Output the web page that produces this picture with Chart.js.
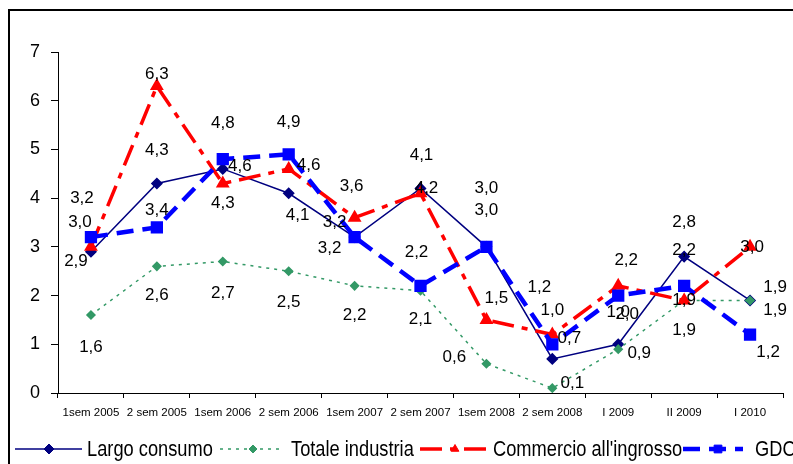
<!DOCTYPE html>
<html>
<head>
<meta charset="utf-8">
<script src="https://cdn.jsdelivr.net/npm/chart.js@4.4.1/dist/chart.umd.min.js"></script>
<style>
    html, body { margin: 0; padding: 0; background: #fff; }
    #wrap { width: 793px; height: 464px; position: relative; }
</style>
</head>
<body>
<div id="wrap"><canvas id="myChart" width="793" height="464"></canvas></div>
<script>
// periodi
const periods = ['1sem 2005', '2 sem 2005', '1sem 2006', '2 sem 2006', '1sem 2007', '2 sem 2007',
    '1sem 2008', '2 sem 2008', 'I 2009', 'II 2009', 'I 2010'];

const largoConsumo = [2.9, 4.3, 4.6, 4.1, 3.2, 4.2, 3.0, 0.7, 1.0, 2.8, 1.9];
const totaleIndustria = [1.6, 2.6, 2.7, 2.5, 2.2, 2.1, 0.6, 0.1, 0.9, 1.9, 1.9];
const commercioIngrosso = [3.0, 6.3, 4.3, 4.6, 3.6, 4.1, 1.5, 1.2, 2.2, 1.9, 3.0];
const gdo = [3.2, 3.4, 4.8, 4.9, 3.2, 2.2, 3.0, 1.0, 2.0, 2.2, 1.2];

const yTicks = [0, 1, 2, 3, 4, 5, 6, 7];

// spostamento etichette (dx, dy) rispetto al punto
const offLargo = [[-15, 10], [0, -33], [17, -3], [9, 22], [-20, -15], [6, 0], [0, -59], [17, -21], [0, -32], [0, -34], [25, -13]];
const offTotale = [[0, 32], [0, 29], [0, 32], [0, 31], [0, 29], [0, 29], [-32, -6], [20, -5], [21, 4], [0, 30], [25, 10]];
const offCommercio = [[-11, -25], [0, -12], [0, 20], [20, -4], [-3, -31], [1, -38], [10, -22], [-13, -47], [8, -26], [0, 0], [2, 0]];
const offGdo = [[-9, -39], [0, -17], [0, -36], [0, -32], [-25, 11], [-4, -34], [0, -37], [0, -34], [9, 19], [0, -36], [18, 18]];

document.addEventListener('DOMContentLoaded', function () {

    const fmt = function (v) {
        return v.toFixed(1).replace('.', ',');
    };

    // etichette valori
    const valueLabels = {
        id: 'valueLabels',
        afterDatasetsDraw: function (chart) {
            const ctx = chart.ctx;
            ctx.save();
            ctx.font = '17px "Liberation Sans", Arial, sans-serif';
            ctx.fillStyle = '#000';
            ctx.textAlign = 'center';
            ctx.textBaseline = 'middle';
            chart.data.datasets.forEach(function (ds, i) {
                const meta = chart.getDatasetMeta(i);
                meta.data.forEach(function (pt, j) {
                    const o = ds.labelOffsets[j];
                    ctx.fillText(fmt(ds.data[j]), pt.x + o[0], pt.y + o[1]);
                });
            });
            ctx.restore();
        }
    };

    // cornice + legenda
    const frameLegend = {
        id: 'frameLegend',
        afterDraw: function (chart) {
            const ctx = chart.ctx;
            ctx.save();
            ctx.strokeStyle = '#000';
            ctx.lineWidth = 2;
            ctx.beginPath();
            ctx.moveTo(793, 10);
            ctx.lineTo(9, 10);
            ctx.lineTo(9, 464);
            ctx.stroke();

            const items = [
                { line: [15, 82], mark: 49, text: 87 },
                { line: [220, 283], mark: 253, text: 291 },
                { line: [420, 487], mark: 455, text: 493 },
                { line: [683, 743], mark: 718, text: 755 }
            ];
            const y = 449;
            chart.data.datasets.forEach(function (ds, i) {
                const it = items[i];
                ctx.save();
                ctx.strokeStyle = ds.borderColor;
                ctx.lineWidth = ds.borderWidth;
                ctx.setLineDash(ds.borderDash || []);
                ctx.beginPath();
                ctx.moveTo(it.line[0], y);
                ctx.lineTo(it.line[1], y);
                ctx.stroke();
                ctx.setLineDash([]);
                ctx.fillStyle = ds.pointBackgroundColor;
                ctx.strokeStyle = ds.pointBorderColor;
                ctx.lineWidth = 1;
                Chart.helpers.drawPoint(ctx, {
                    pointStyle: ds.pointStyle,
                    rotation: 0,
                    radius: ds.pointRadius,
                    borderWidth: 1
                }, it.mark, y);
                ctx.restore();

                ctx.save();
                ctx.font = '22px "Liberation Sans", Arial, sans-serif';
                ctx.fillStyle = '#000';
                ctx.textBaseline = 'middle';
                ctx.translate(it.text, y + 1);
                ctx.scale(0.83, 1);
                ctx.fillText(ds.label, 0, 0);
                ctx.restore();
            });
            ctx.restore();
        }
    };

    const data = {
        labels: periods,
        datasets: [{
            label: 'Largo consumo',
            data: largoConsumo,
            labelOffsets: offLargo,
            borderColor: '#000080',
            borderWidth: 1.5,
            pointStyle: 'rectRot',
            pointRadius: 5,
            pointBackgroundColor: '#000080',
            pointBorderColor: '#000080',
            order: 3
        }, {
            label: 'Totale industria',
            data: totaleIndustria,
            labelOffsets: offTotale,
            borderColor: '#339966',
            borderWidth: 1.5,
            borderDash: [3, 5],
            pointStyle: 'rectRot',
            pointRadius: 4,
            pointBackgroundColor: '#339966',
            pointBorderColor: '#339966',
            order: 2
        }, {
            label: "Commercio all'ingrosso",
            data: commercioIngrosso,
            labelOffsets: offCommercio,
            borderColor: '#ff0000',
            borderWidth: 3.5,
            borderDash: [22, 8, 6, 8],
            pointStyle: 'triangle',
            pointRadius: 4.5,
            pointBackgroundColor: '#ff0000',
            pointBorderColor: '#ff0000',
            order: 1
        }, {
            label: 'GDO',
            data: gdo,
            labelOffsets: offGdo,
            borderColor: '#0000ff',
            borderWidth: 4.5,
            borderDash: [17, 9],
            pointStyle: 'rect',
            pointRadius: 5.5,
            pointBackgroundColor: '#0000ff',
            pointBorderColor: '#0000ff',
            order: 0
        }]
    };

    var ctx = document.getElementById('myChart').getContext('2d');
    var myChart = new Chart(ctx, {
        type: 'line',
        data: data,
        options: {
            responsive: false,
            animation: false,
            layout: { padding: { top: 52, right: 9, left: 0, bottom: 0 } },
            plugins: {
                legend: { display: false },
                tooltip: { enabled: false }
            },
            elements: { line: { tension: 0, fill: false } },
            scales: {
                x: {
                    offset: true,
                    grid: { offset: true, drawOnChartArea: false, tickLength: 5, color: '#000' },
                    border: { color: '#000', width: 1 },
                    ticks: {
                        color: '#000',
                        maxRotation: 0,
                        autoSkip: false,
                        padding: 8,
                        font: { family: '"Liberation Sans", Arial, sans-serif', size: 11.5 }
                    },
                    afterFit: function (s) { s.height = 71; }
                },
                y: {
                    min: 0,
                    max: 7,
                    afterBuildTicks: function (s) {
                        s.ticks = yTicks.map(function (v) { return { value: v }; });
                    },
                    grid: { drawOnChartArea: false, tickLength: 7, color: '#000' },
                    border: { color: '#000', width: 1 },
                    ticks: {
                        color: '#000',
                        padding: 11,
                        font: { family: '"Liberation Sans", Arial, sans-serif', size: 18 }
                    },
                    afterFit: function (s) { s.width = 58; }
                }
            }
        },
        plugins: [valueLabels, frameLegend]
    });
});
</script>
</body>
</html>
